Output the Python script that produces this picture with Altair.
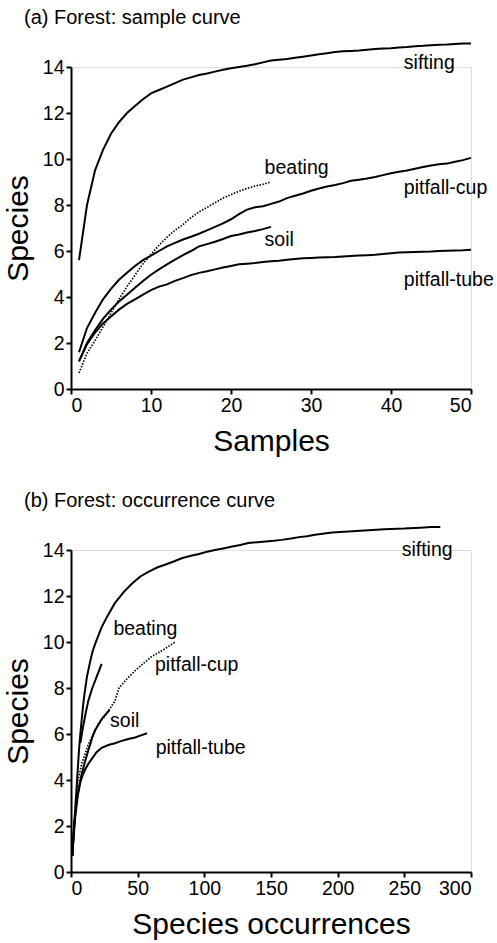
import altair as alt
import pandas as pd

FONT = "Liberation Sans"

# ---------------- Panel (a): sample curves ----------------
samples_a = list(range(1, 51))
sifting_a = [5.6, 8.0, 9.5, 10.4, 11.1, 11.6, 12.0, 12.3, 12.6, 12.85,
             13.0, 13.15, 13.3, 13.45, 13.55, 13.65, 13.72, 13.8, 13.88, 13.95,
             14.0, 14.05, 14.12, 14.2, 14.28, 14.32, 14.35, 14.4, 14.45, 14.5,
             14.55, 14.6, 14.65, 14.68, 14.7, 14.72, 14.75, 14.78, 14.8, 14.82,
             14.85, 14.87, 14.9, 14.92, 14.95, 14.97, 14.98, 15.0, 15.02, 15.02]
pitfall_cup_a = [1.6, 2.65, 3.3, 3.9, 4.35, 4.75, 5.05, 5.35, 5.6, 5.8,
                 6.0, 6.2, 6.35, 6.5, 6.62, 6.75, 6.9, 7.05, 7.2, 7.38,
                 7.6, 7.8, 7.9, 7.95, 8.05, 8.15, 8.3, 8.4, 8.5, 8.62,
                 8.72, 8.8, 8.87, 8.95, 9.05, 9.1, 9.15, 9.22, 9.3, 9.38,
                 9.45, 9.5, 9.58, 9.65, 9.72, 9.77, 9.8, 9.88, 9.95, 10.05]
pitfall_tube_a = [1.2, 1.95, 2.45, 2.85, 3.15, 3.45, 3.7, 3.9, 4.1, 4.3,
                  4.45, 4.55, 4.7, 4.82, 4.95, 5.05, 5.12, 5.2, 5.28, 5.35,
                  5.42, 5.45, 5.48, 5.52, 5.55, 5.58, 5.62, 5.65, 5.68, 5.7,
                  5.72, 5.73, 5.74, 5.76, 5.78, 5.8, 5.82, 5.84, 5.87, 5.9,
                  5.93, 5.95, 5.96, 5.97, 5.98, 6.0, 6.01, 6.02, 6.03, 6.05]
samples_short_a = list(range(1, 26))
soil_a = [1.2, 2.0, 2.55, 3.05, 3.45, 3.8, 4.1, 4.4, 4.7, 4.97,
          5.2, 5.42, 5.62, 5.82, 6.0, 6.2, 6.3, 6.4, 6.52, 6.65,
          6.72, 6.8, 6.87, 6.95, 7.05]
beating_a = [0.7, 1.55, 2.1, 2.7, 3.3, 3.9, 4.45, 4.95, 5.45, 5.85,
             6.25, 6.6, 6.9, 7.15, 7.45, 7.7, 7.9, 8.1, 8.3, 8.45,
             8.6, 8.72, 8.82, 8.9, 9.0]

# ---------------- Panel (b): occurrence curves ----------------
sifting_b_x = [1, 2, 3, 4, 5, 6, 7, 8, 9, 10, 12, 14, 16, 18, 20, 23, 28, 33, 40, 46,
               52, 58, 65, 71, 77, 83, 90, 96, 102, 108, 115, 121, 127, 133, 140, 146,
               152, 158, 165, 171, 177, 183, 190, 196, 202, 208, 220, 235, 250, 262, 270, 277]
sifting_b_y = [0.7, 1.7, 2.6, 3.5, 4.4, 5.3, 6.0, 6.6, 7.2, 7.7, 8.5, 9.05, 9.55, 9.9, 10.2,
               10.65, 11.2, 11.7, 12.2, 12.55, 12.85, 13.05, 13.25, 13.37, 13.5, 13.64,
               13.75, 13.83, 13.92, 14.0, 14.08, 14.15, 14.22, 14.3, 14.34, 14.37, 14.4,
               14.44, 14.5, 14.56, 14.6, 14.66, 14.72, 14.76, 14.78, 14.8, 14.85, 14.9,
               14.93, 14.97, 15.0, 15.0]
beating_b_x = [7, 9, 11, 13, 16, 20, 23]
beating_b_y = [5.6, 6.3, 6.9, 7.45, 8.0, 8.6, 9.05]
pitfall_cup_b_x = [1, 3, 5, 8, 13, 20, 27, 33, 36, 42, 48, 55, 60, 66, 73, 78]
pitfall_cup_b_y = [0.7, 2.5, 3.9, 4.7, 5.55, 6.4, 6.9, 7.45, 8.0, 8.4, 8.75, 9.1, 9.35,
                   9.55, 9.8, 10.0]
soil_b_x = [1, 2, 4, 6, 8, 10, 13, 16, 18, 21, 23, 26, 29]
soil_b_y = [0.7, 1.8, 3.0, 3.7, 4.25, 4.7, 5.3, 5.85, 6.15, 6.45, 6.65, 6.85, 7.05]
pitfall_tube_b_x = [1, 3, 5, 7, 9, 11, 13, 16, 19, 23, 28, 33, 38, 43, 48, 53, 57]
pitfall_tube_b_y = [0.7, 2.3, 3.3, 3.9, 4.25, 4.5, 4.7, 4.95, 5.2, 5.4, 5.52, 5.6, 5.7,
                    5.78, 5.85, 5.95, 6.03]

# ---------------- Curve labels (data units) ----------------
labels_a = ["sifting", "beating", "pitfall-cup", "soil", "pitfall-tube"]
labels_a_x = [41.6, 24.2, 41.6, 24.2, 41.6]
labels_a_y = [13.9, 9.33, 8.46, 6.22, 4.49]
labels_b = ["sifting", "beating", "pitfall-cup", "soil", "pitfall-tube"]
labels_b_x = [248, 31.8, 63, 29.3, 63.5]
labels_b_y = [13.74, 10.29, 8.76, 6.29, 5.13]


def series_df(pairs):
    rows = []
    for name, style, xs, ys in pairs:
        for i, (x, y) in enumerate(zip(xs, ys)):
            rows.append({"series": name, "style": style, "x": x, "y": y, "order": i})
    return pd.DataFrame(rows)


df_a = series_df([
    ("sifting", "solid", samples_a, sifting_a),
    ("pitfall-cup", "solid", samples_a, pitfall_cup_a),
    ("pitfall-tube", "solid", samples_a, pitfall_tube_a),
    ("soil", "solid", samples_short_a, soil_a),
    ("beating", "dotted", samples_short_a, beating_a),
])
df_b = series_df([
    ("sifting", "solid", sifting_b_x, sifting_b_y),
    ("beating", "solid", beating_b_x, beating_b_y),
    ("pitfall-cup", "dotted", pitfall_cup_b_x, pitfall_cup_b_y),
    ("soil", "solid", soil_b_x, soil_b_y),
    ("pitfall-tube", "solid", pitfall_tube_b_x, pitfall_tube_b_y),
])
lab_a = pd.DataFrame({"label": labels_a, "x": labels_a_x, "y": labels_a_y})
lab_b = pd.DataFrame({"label": labels_b, "x": labels_b_x, "y": labels_b_y})


def axis(title, values, title_pad):
    return alt.Axis(
        title=title, values=values, grid=False,
        domainColor="black", domainWidth=2, tickColor="black", tickWidth=2,
        tickSize=5, labelFontSize=19.5, labelFont=FONT, labelColor="black",
        labelPadding=2, titleFontSize=30, titleFont=FONT, titleFontWeight="normal",
        titleColor="black", titlePadding=title_pad,
    )


def panel(df, lab, xmax, xvals, xtitle, title):
    x_enc = alt.X("x:Q", scale=alt.Scale(domain=[0, xmax], nice=False),
                  axis=axis(xtitle, xvals, 12))
    y_enc = alt.Y("y:Q", scale=alt.Scale(domain=[0, 14], nice=False),
                  axis=axis("Species", list(range(0, 15, 2)), 9))
    solid = alt.Chart(df).transform_filter(alt.datum.style == "solid").mark_line(
        color="black", strokeWidth=2, clip=False
    ).encode(x=x_enc, y=y_enc, detail="series:N", order="order:Q")
    dotted = alt.Chart(df).transform_filter(alt.datum.style == "dotted").mark_line(
        color="black", strokeWidth=1.7, strokeDash=[1.5, 1.5], clip=False
    ).encode(x="x:Q", y="y:Q", detail="series:N", order="order:Q")
    text = alt.Chart(lab).mark_text(
        align="left", baseline="alphabetic", font=FONT, fontSize=19.5, color="black"
    ).encode(x="x:Q", y="y:Q", text="label:N")
    return alt.layer(solid, dotted, text).properties(
        width=400, height=322,
        title=alt.TitleParams(title, anchor="start", frame="group", dx=-47,
                              fontSize=20, font=FONT, fontWeight="normal",
                              color="black", offset=12),
    )


top = panel(df_a, lab_a, 50, list(range(0, 51, 10)), "Samples",
            "(a) Forest: sample curve")
bottom = panel(df_b, lab_b, 300, list(range(0, 301, 50)), "Species occurrences",
               "(b) Forest: occurrence curve")

chart = alt.vconcat(top, bottom, spacing=33).properties(
    padding={"left": 2, "top": 7, "right": 0, "bottom": 5}
).configure_view(stroke=None).configure(background="white")

chart.save("out.html", embed_options={"renderer": "svg", "actions": False})
